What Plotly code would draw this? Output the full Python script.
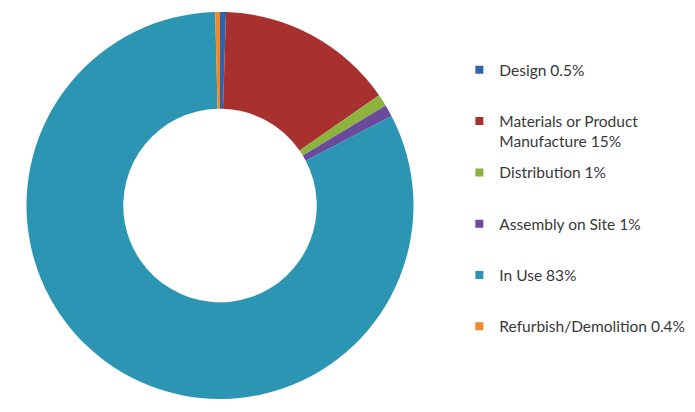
import plotly.graph_objects as go

labels = ["Design 0.5%", "Materials or Product<br>Manufacture 15%", "Distribution 1%",
          "Assembly on Site 1%", "In Use 83%", "Refurbish/Demolition 0.4%"]
values = [0.5, 15, 1, 1, 83, 0.4]
colors = ["#3162AC", "#A8302F", "#8CB43C", "#6A4A9C", "#2B95B3", "#F0892A"]

# page body has an 8px margin, so the figure is 8px smaller than the window
W, H = 687, 404
fig = go.Figure()
fig.add_trace(go.Pie(
    labels=labels, values=values, sort=False, direction="clockwise", rotation=0,
    hole=0.5, marker=dict(colors=colors, line=dict(width=0)),
    textinfo="none", hoverinfo="label", showlegend=False,
    domain=dict(x=[17 / W, 407 / W], y=[1 - 391 / H, 1 - 4 / H]),
))

# legend entries (one per slice), every label occupies two lines
for i, (lab, col) in enumerate(zip(labels, colors)):
    text = lab if "<br>" in lab else lab + "<br> "
    fig.add_trace(go.Scatter(
        x=[None], y=[None], mode="markers", name=text,
        marker=dict(symbol="square", size=8, color=col),
        legendgroup=f"g{i}", showlegend=True, hoverinfo="skip",
    ))

fig.update_layout(
    width=W, height=H, margin=dict(l=0, r=0, t=0, b=0, autoexpand=False),
    paper_bgcolor="white", plot_bgcolor="white",
    xaxis=dict(visible=False), yaxis=dict(visible=False),
    legend=dict(x=0.657, y=0.888, xanchor="left", yanchor="top", valign="top",
                tracegroupgap=8, font=dict(family="Lato", size=15.5, color="#383838"),
                bgcolor="rgba(0,0,0,0)"),
)
fig.write_html("out.html")
